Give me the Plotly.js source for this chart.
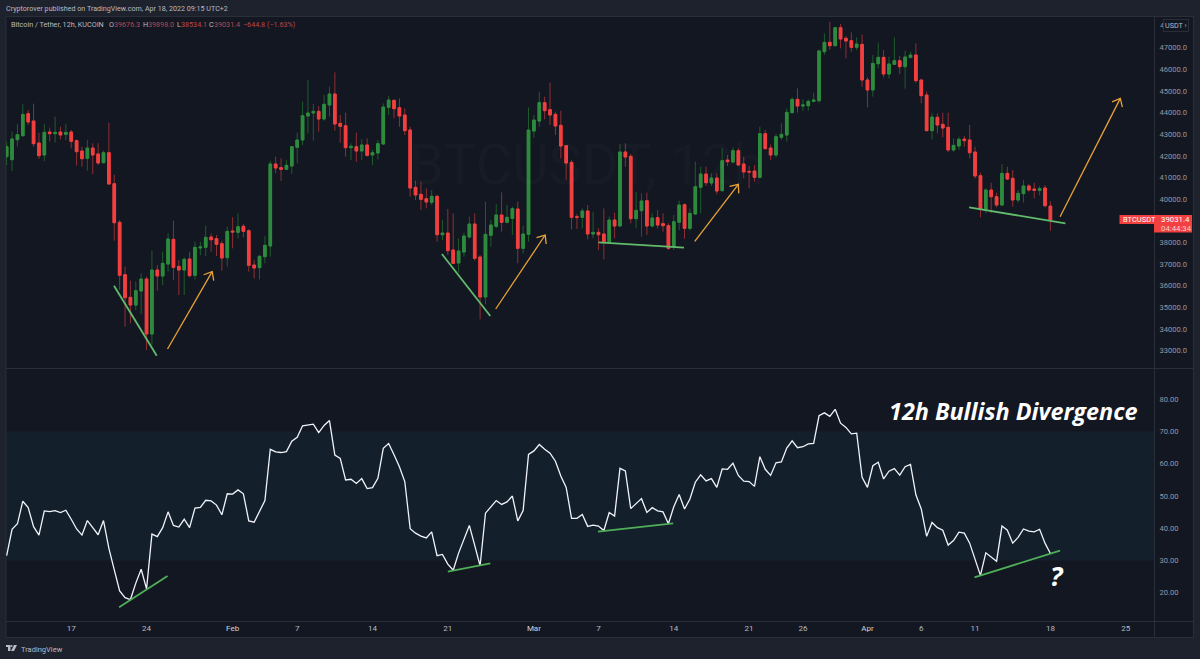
<!DOCTYPE html>
<html><head><meta charset="utf-8">
<script src="https://cdn.plot.ly/plotly-3.0.1.min.js"></script>
<style>html,body{margin:0;padding:0;background:#1e222d}#chart{width:1200px;height:659px}</style>
</head><body><div id="chart"></div>
<script>
const opens=[41961,41823,42747,42932,43949,43610,42593,42038,43102,43025,43102,42994,43102,42701,42223,41884,42362,42085,41684,42146,40713,38926,36506,35458,35104,35751,36306,33763,36722,36445,36999,38140,36891,36722,37230,36475,37739,37770,38247,38170,37939,37292,38525,38463,38741,38540,36953,36830,37338,37831,41622,41453,41376,41530,42393,42732,43841,43980,44057,43703,44350,44858,43502,43394,42377,42424,42223,42501,42038,42131,42547,44242,44566,44227,43888,43194,40544,40220,40020,39850,40128,38355,38432,37646,37046,37554,38247,38848,37323,35474,38325,38740,39265,38926,39110,39542,37724,38371,43148,43610,44458,44134,43918,43410,42470,41699,39187,39157,39449,38386,38463,38386,37986,39033,38756,42177,41977,39095,39465,39927,38756,39141,38864,38771,37801,38926,39742,38648,39311,40544,41160,40744,40975,40390,41807,41715,42239,41622,41283,41299,41006,43025,42362,42038,42855,42963,43995,44612,44304,44319,44519,44550,46815,47247,47093,47925,47432,47324,47016,47154,45506,45043,46261,46553,45783,46230,46399,46122,46553,46661,45506,44812,43163,43780,43456,43317,42269,42454,42778,42732,42177,41083,39527,40420,40112,39727,41191,40960,39958,40251,40605,40466,40405,40513,39676.3];
const highs=[42655,43117,43471,44381,44119,44411,43071,43471,43302,43810,43348,43471,43194,42763,42424,42732,42578,42578,42239,43533,41129,39033,36876,36229,36183,36568,36414,37616,36953,37569,38417,39003,37184,37307,37569,38032,38032,38771,38417,38340,38078,38725,39157,39342,38848,38602,37184,37415,38294,41776,41961,41884,41807,42424,43071,44504,45506,44396,44304,44812,45197,45860,43888,43995,42578,43071,42763,42809,42269,42732,44427,44766,44612,44658,44196,43348,40852,40806,40497,40420,40189,39033,39542,39342,38186,38448,39187,39342,37415,39881,39033,39758,40312,39727,39650,39881,38771,44242,43888,44966,44735,45382,44042,44088,42501,41807,39311,39573,39727,39419,38648,39573,39187,39372,42547,42578,42085,40328,40266,40297,39342,39496,39342,38879,39265,39927,39804,39573,41730,41499,41499,41191,41191,42347,42038,42393,42347,41961,41530,41576,43348,43194,42531,43009,43502,44196,44704,45120,44612,44612,44920,46923,47663,48202,47971,48094,47540,47709,47478,47617,45629,46661,47232,46892,46584,47478,46615,46862,46815,47201,45536,44966,43965,43965,43995,43995,42809,42886,42917,43425,42424,41222,40497,40759,40297,41622,41499,41345,40420,40883,40698,40759,40605,40651,39898];
const lows=[41576,41299,42424,42886,43425,42424,41853,41761,42655,42609,42763,42732,42347,41545,41499,41314,41160,41576,41653,40651,38078,35797,34102,34256,34873,34688,33023,33255,35766,36028,36645,36260,35566,35566,36383,36290,37415,37369,37569,37369,36691,36876,37724,38186,38232,36645,36337,36290,37030,37338,41191,40836,41345,41160,41653,42501,43040,42701,43117,43626,43810,43163,42609,41961,41807,41730,41807,41961,41576,41838,42501,43888,43733,43348,42963,40112,39958,39496,39573,39727,38032,38109,37415,36999,36599,37338,38186,37153,34441,35135,37801,38648,38494,38879,38340,37030,37492,38032,42840,43348,43687,43425,42963,41884,40883,38602,38617,38648,38140,38186,37646,37215,37955,38186,38725,41499,38879,38648,38263,38340,38694,38648,38494,37646,37646,38571,38170,38540,39265,39342,40605,40605,40220,40343,41530,41653,41530,40960,40497,40806,40960,42300,41807,41930,42732,42655,43965,43995,44073,44088,44473,44458,46661,46892,47077,46970,46507,46815,46892,45197,44242,44735,46045,45629,45583,46199,45783,45105,46507,45382,44427,43148,42763,43040,42855,42177,42192,42269,42424,41884,40960,39157,39342,39342,39619,39681,40883,39650,39835,39835,40343,40035,40174,39619,38534.1];
const closes=[42424,42778,42978,43918,43564,42562,42008,43086,43025,43086,42963,43086,42670,42192,41869,42362,42038,41669,42146,40698,38910,36475,35443,35104,35766,36306,33763,36722,36445,37030,38155,36845,36722,37215,36460,37770,37785,38232,38124,37909,37277,38509,38479,38725,38509,36938,36814,37354,37862,41622,41437,41376,41561,42424,42732,43857,43980,44057,43703,44381,44858,43471,43364,42377,42439,42223,42501,42023,42146,42562,44257,44581,44180,43841,43163,40513,40189,39989,39866,40128,38355,38432,37616,37030,37600,38294,38848,37261,35474,38371,38802,39265,38926,39157,39557,37724,38386,43194,43656,44458,44088,43888,43379,42454,41669,39157,39157,39449,38386,38463,38355,37986,39033,38756,42177,41946,39095,39480,39912,38756,39126,38802,38771,37724,38956,39727,38648,39342,40574,41160,40759,40975,40374,41776,41730,42239,41576,41252,41252,41006,43025,42331,42038,42886,42994,44011,44612,44304,44350,44519,44581,46846,47247,47093,47925,47401,47309,47016,47170,45506,45043,46276,46553,45783,46245,46399,46122,46569,46661,45475,44781,43163,43795,43425,43287,42269,42485,42763,42701,42146,41068,39527,40420,40112,39727,41191,40929,39958,40266,40605,40420,40405,40482,39696,39031.4];
const rsiValues=[31.5,39.7,41.4,48.4,46.4,40.5,37.9,45.4,45.2,45.5,44.9,45.6,42.8,39.8,37.9,42.4,40.2,38.0,42.4,33.8,27.1,20.6,18.5,17.9,23.0,27.3,21.2,38.2,37.4,40.2,45.1,40.9,40.4,42.8,40.2,46.3,46.5,48.7,48.5,47.2,44.2,50.7,50.6,51.9,50.7,42.3,41.9,45.4,48.6,64.5,63.7,63.5,63.8,67.0,68.2,71.8,72.1,72.3,69.7,71.9,73.4,62.7,61.7,55.0,55.2,53.9,55.4,52.3,52.6,55.5,64.8,66.3,62.8,59.1,54.5,39.9,38.5,37.6,37.0,38.9,31.5,31.9,28.9,27.0,32.3,36.9,40.9,34.7,28.4,44.7,46.6,48.6,47.4,48.2,50.0,42.3,45.5,62.9,64.0,66.0,64.5,63.3,60.8,56.2,52.7,43.1,43.1,44.3,40.6,41.0,40.7,39.3,44.9,43.8,58.6,57.8,46.1,47.6,49.2,44.9,46.4,45.4,45.1,41.4,46.7,50.5,46.0,49.1,54.3,56.6,54.7,55.4,52.7,58.4,58.3,60.2,56.4,54.6,54.5,53.0,62.2,58.3,56.4,60.3,60.6,64.9,67.1,65.0,65.3,66.2,66.3,74.9,75.8,74.7,76.9,72.6,71.3,69.3,69.5,55.8,52.7,59.4,60.5,55.3,57.7,58.5,56.5,59.1,59.8,50.4,46.0,37.5,41.8,40.2,39.4,34.8,36.2,38.8,38.5,35.4,30.7,25.4,32.4,31.1,29.8,40.7,39.4,35.4,37.2,39.8,39.1,38.9,39.7,35.4,32.2];

const tickDates=['2022-01-17','2022-01-24','2022-02-01','2022-02-07','2022-02-14','2022-02-21','2022-03-01','2022-03-07','2022-03-14','2022-03-21','2022-03-26','2022-04-01','2022-04-06','2022-04-11','2022-04-18','2022-04-25'];
const tickLabels=['17','24','Feb','7','14','21','Mar','7','14','21','26','Apr','6','11','18','25'];
const priceTicks=[33000,34000,35000,36000,37000,38000,39000,40000,41000,42000,43000,44000,45000,46000,47000];
const rsiTicks=[20,30,40,50,60,70,80];

// trend drawings: start bar, start value, end bar, end value
const priceLines=[[19.95,35998,27.9,32762],[80.9,37461,89.9,34595],[110,38001,125.9,37754],[178.9,39619,196.8,38879]];
const priceArrows=[[29.9,33070,38.2,36645],[90.9,34919,100.1,38340],[127.9,38047,136,40682],[195.8,39187,207,44658]];
const rsiLines=[[20.9,15.5,29.9,25.2],[82,26.6,89.9,29.1],[109.9,39.0,123.9,41.5],[179.9,24.8,195.8,33.1]];

const BG='#131722',FRAME='#1e222d',EDGE='#2a2e39',AXIS='#9598a1',TXT='#b8bbc3',RED='#f23f3f',GREEN='#2e8b3e',FONT='Roboto, sans-serif',ORANGE='#e8a235';
const X=p=>p/1200, Y=p=>1-p/659;
const barDate=b=>new Date(Date.UTC(2022,0,11)+b*43200000).toISOString().slice(0,19);
const times=closes.map((_,i)=>barDate(i));

const traces=[
 {type:'candlestick',x:times,open:opens,high:highs,low:lows,close:closes,xaxis:'x',yaxis:'y',hoverinfo:'skip',whiskerwidth:0,
  increasing:{line:{color:'#1f5c2b',width:1},fillcolor:GREEN},decreasing:{line:{color:'#8f2f33',width:1},fillcolor:RED},showlegend:false},
 {type:'candlestick',x:times,open:opens,close:closes,high:opens.map((o,i)=>Math.max(o,closes[i])),low:opens.map((o,i)=>Math.min(o,closes[i])),xaxis:'x',yaxis:'y',hoverinfo:'skip',whiskerwidth:0,
  increasing:{line:{color:GREEN,width:1},fillcolor:GREEN},decreasing:{line:{color:RED,width:1},fillcolor:RED},showlegend:false},
 {type:'scatter',mode:'lines',x:times,y:rsiValues,xaxis:'x',yaxis:'y2',line:{color:'#f0f3fa',width:1.3},hoverinfo:'skip',showlegend:false}
];
priceLines.forEach(l=>traces.push({type:'scatter',mode:'lines',x:[barDate(l[0]),barDate(l[2])],y:[l[1],l[3]],xaxis:'x',yaxis:'y',line:{color:'#62bb6c',width:1.8},hoverinfo:'skip',showlegend:false}));
rsiLines.forEach(l=>traces.push({type:'scatter',mode:'lines',x:[barDate(l[0]),barDate(l[2])],y:[l[1],l[3]],xaxis:'x',yaxis:'y2',line:{color:'#4fae58',width:1.8},hoverinfo:'skip',showlegend:false}));
// open chevron arrows, built in axis units from each arrow's own direction
const PX_BAR=5.38, PX_PRICE=0.02163, HEAD=9, SPREAD=40*Math.PI/180;
priceArrows.forEach(a=>{
 const dx=(a[2]-a[0])*PX_BAR, dy=(a[3]-a[1])*PX_PRICE, ang=Math.atan2(dy,dx);
 const arm=s=>[a[2]-HEAD*Math.cos(ang+s*SPREAD)/PX_BAR, a[3]-HEAD*Math.sin(ang+s*SPREAD)/PX_PRICE];
 const A=arm(1),B=arm(-1);
 traces.push({type:'scatter',mode:'lines',x:[barDate(a[0]),barDate(a[2]),null,barDate(A[0]),barDate(a[2]),barDate(B[0])],y:[a[1],a[3],null,A[1],a[3],B[1]],xaxis:'x',yaxis:'y',line:{color:ORANGE,width:1.3},hoverinfo:'skip',showlegend:false});
});

const rect=(x0,y0,x1,y1,fill)=>({type:'rect',xref:'paper',yref:'paper',x0:X(x0),x1:X(x1),y0:Y(y0),y1:Y(y1),fillcolor:fill,line:{width:0},layer:'below'});
const seg=(x0,y0,x1,y1)=>({type:'line',xref:'paper',yref:'paper',x0:X(x0),x1:X(x1),y0:Y(y0),y1:Y(y1),line:{color:EDGE,width:1},layer:'below'});
const shapes=[
 rect(6,16.5,1194,638,BG),
 {type:'rect',xref:'paper',yref:'y2',x0:X(6),x1:X(1154),y0:30,y1:70,fillcolor:'#13202b',line:{width:0},layer:'below'},
 seg(6,16.5,1194,16.5),seg(6,368.5,1194,368.5),seg(6,621.5,1194,621.5),seg(6,637.5,1194,637.5),
 seg(6,16.5,6,637.5),seg(1154.5,16.5,1154.5,637.5),seg(1193.5,16.5,1193.5,637.5),
 {type:'rect',xref:'paper',yref:'paper',x0:X(1119.5),x1:X(1154),y0:Y(215),y1:Y(224),fillcolor:RED,line:{width:0},layer:'above'},
 {type:'rect',xref:'paper',yref:'paper',x0:X(1154),x1:X(1192),y0:Y(215),y1:Y(232.5),fillcolor:RED,line:{width:0},layer:'above'},
 {type:'rect',xref:'paper',yref:'paper',x0:X(6),x1:X(10.5),y0:Y(645),y1:Y(647),fillcolor:TXT,line:{width:0},layer:'above'},
 {type:'rect',xref:'paper',yref:'paper',x0:X(8),x1:X(10.5),y0:Y(645),y1:Y(651),fillcolor:TXT,line:{width:0},layer:'above'},
 {type:'circle',xref:'paper',yref:'paper',x0:X(11),x1:X(12.6),y0:Y(645),y1:Y(647),fillcolor:TXT,line:{width:0},layer:'above'},
 {type:'path',xref:'paper',yref:'paper',path:`M ${X(11)} ${Y(651)} L ${X(14)} ${Y(645)} L ${X(17)} ${Y(645)} L ${X(14)} ${Y(651)} Z`,fillcolor:TXT,line:{width:0},layer:'above'}
];

const note=(px,py,text,size,color,extra)=>Object.assign({xref:'paper',yref:'paper',x:X(px),y:Y(py),text:text,showarrow:false,xanchor:'left',yanchor:'middle',font:{family:FONT,size:size,color:color},borderpad:0},extra||{});
const heavy=(size)=>({family:'Open Sans, sans-serif',size:size,color:'#ffffff',weight:700,style:'italic'});
const annotations=[
 note(5,9,'Cryptorover published on TradingView.com, Apr 18, 2022 09:15 UTC+2',7.15,TXT),
 note(9.5,25,'Bitcoin / Tether, 12h, KUCOIN',7.2,TXT),
 note(107.5,25,'O',7.2,TXT),note(112.5,25,'39676.3',7.2,'#b8474e'),
 note(141.5,25,'H',7.2,TXT),note(146.5,25,'39898.0',7.2,'#b8474e'),
 note(175.5,25,'L',7.2,TXT),note(180,25,'38534.1',7.2,'#b8474e'),
 note(208,25,'C',7.2,TXT),note(213,25,'39031.4',7.2,'#b8474e'),
 note(242,25,'−644.8 (−1.63%)',7.2,'#b8474e'),
 note(586,165,'BTCUSDT, 12h',56,'rgba(255,255,255,0.018)',{xanchor:'center'}),
 note(586,228,'Bitcoin / Tether',24,'rgba(255,255,255,0.018)',{xanchor:'center'}),
 note(888,410.5,'12h Bullish Divergence',23.4,'#ffffff',{font:heavy(23.4)}),
 note(1057,575,'?',27,'#ffffff',{xanchor:'center',font:heavy(27)}),
 note(1159,26,'4',7.6,AXIS),
 note(1175.5,26,'USDT ›',7.2,TXT,{xanchor:'center',bgcolor:BG,bordercolor:EDGE,borderwidth:1,borderpad:1}),
 note(1121.5,219.5,'BTCUSDT',7.5,'#ffffff'),
 note(1160,219.5,'39031.4',7.8,'#ffffff'),
 note(1159.5,228.5,'04:44:34',7.8,'#ffd0d0'),
 note(19.5,649,'TradingView',7.5,TXT)
];

const layout={
 width:1200,height:659,margin:{l:0,r:0,t:0,b:0,pad:0},paper_bgcolor:FRAME,plot_bgcolor:'rgba(0,0,0,0)',showlegend:false,boxmode:'overlay',hovermode:false,dragmode:false,
 font:{family:FONT,color:AXIS},
 xaxis:{type:'date',domain:[X(6),X(1154)],range:[barDate(-0.124),barDate(213.26)],anchor:'y2',rangeslider:{visible:false},showgrid:false,zeroline:false,showline:false,
  tickmode:'array',tickvals:tickDates,ticktext:tickLabels.map(t=>isNaN(t)?`<span style="color:#d1d4dc">${t}</span>`:t),ticks:'',tickfont:{family:FONT,size:8,color:TXT}},
 yaxis:{domain:[Y(368),Y(17)],range:[32192,48419],side:'right',anchor:'x',showgrid:false,zeroline:false,showline:false,tickmode:'array',tickvals:priceTicks,tickformat:'.1f',ticks:'outside',ticklen:3,tickcolor:'rgba(0,0,0,0)',tickfont:{family:FONT,size:7.6,color:AXIS}},
 yaxis2:{domain:[Y(621.5),Y(369)],range:[11.1,89.4],side:'right',anchor:'x',showgrid:false,zeroline:false,showline:false,tickmode:'array',tickvals:rsiTicks,tickformat:'.2f',ticks:'outside',ticklen:3,tickcolor:'rgba(0,0,0,0)',tickfont:{family:FONT,size:7.6,color:AXIS}},
 shapes:shapes,annotations:annotations
};
Plotly.newPlot('chart',traces,layout,{displayModeBar:false,staticPlot:true});
</script></body></html>
